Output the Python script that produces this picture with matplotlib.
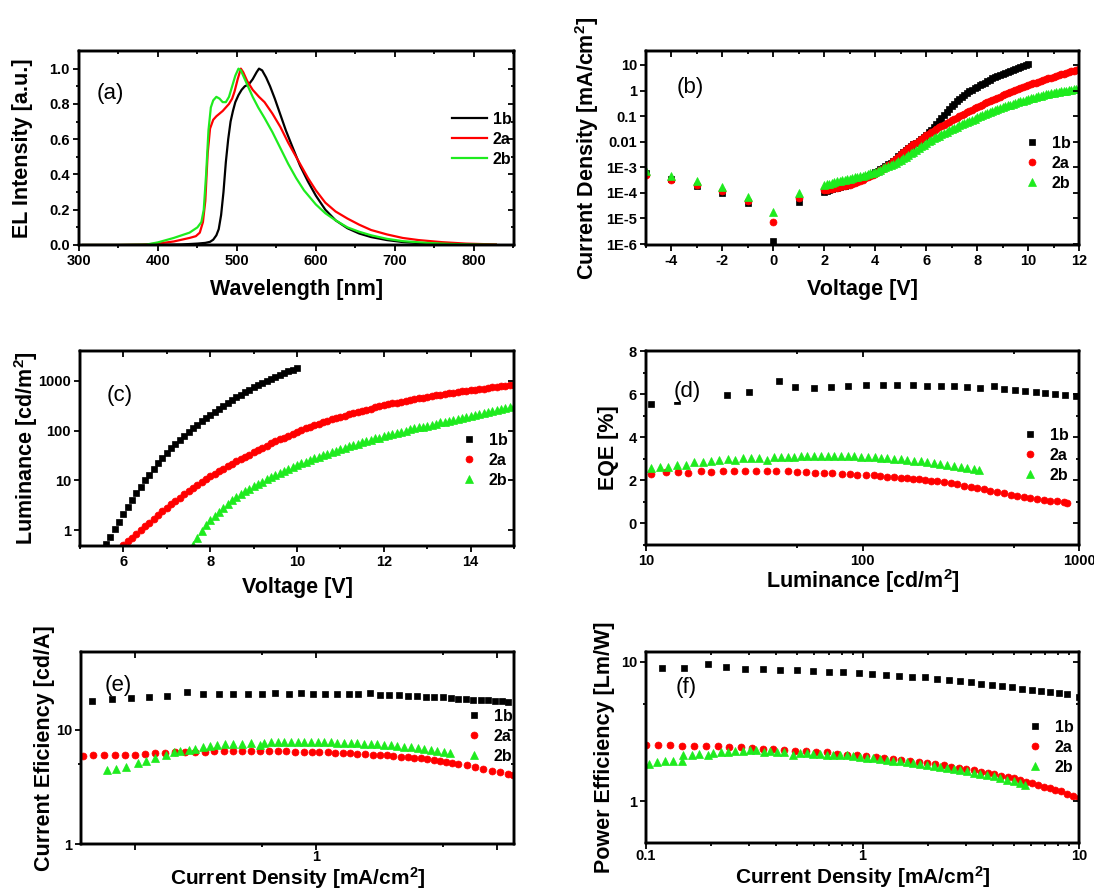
import matplotlib
matplotlib.use("Agg")
import matplotlib.pyplot as plt
from matplotlib.ticker import NullFormatter

plt.rcParams['font.family'] = ['Liberation Sans', 'DejaVu Sans']
plt.rcParams['font.weight'] = 'bold'
plt.rcParams['axes.labelweight'] = 'bold'
plt.rcParams['mathtext.fontset'] = 'custom'
plt.rcParams['mathtext.rm'] = 'Liberation Sans:bold'
plt.rcParams['mathtext.bf'] = 'Liberation Sans:bold'
plt.rcParams['mathtext.default'] = 'bf'

# ---------------- data ----------------
series_names = ['1b', '2a', '2b']
colors = {'1b': '#000000', '2a': '#FF0000', '2b': '#1EEB1E'}

# (a) EL spectra
wl_1b = [305, 350, 400, 430, 450, 460, 466, 470, 474, 477, 480, 483, 486, 489, 492, 495, 498, 502, 506, 510,
         515, 520, 525, 528, 532, 537, 542, 548, 555, 562, 570, 580, 590, 600, 612, 625, 640, 655, 670, 690,
         710, 740, 770, 800, 828]
el_1b = [0, 0, 0.001, 0.003, 0.008, 0.012, 0.018, 0.03, 0.055, 0.09, 0.17, 0.3, 0.47, 0.6, 0.7, 0.76, 0.81, 0.85, 0.88, 0.9,
         0.91, 0.94, 0.98, 1.0, 0.99, 0.95, 0.9, 0.83, 0.74, 0.65, 0.56, 0.45, 0.36, 0.28, 0.2, 0.14, 0.095, 0.065, 0.045, 0.028,
         0.017, 0.008, 0.004, 0.002, 0.0]
wl_2a = [305, 350, 380, 400, 420, 440, 448, 453, 457, 460, 463, 466, 470, 474, 478, 482, 486, 490, 494, 497,
         501, 505, 508, 513, 520, 528, 535, 545, 555, 565, 575, 580, 590, 600, 612, 625, 640, 655, 670, 690,
         710, 730, 760, 790, 828]
el_2a = [0, 0, 0.002, 0.008, 0.02, 0.04, 0.05, 0.07, 0.13, 0.25, 0.52, 0.66, 0.71, 0.73, 0.745, 0.76, 0.78, 0.8, 0.83, 0.87,
         0.94, 1.0, 0.98, 0.93, 0.88, 0.84, 0.81, 0.745, 0.67, 0.58, 0.5, 0.46, 0.38, 0.31, 0.24, 0.19, 0.15, 0.115, 0.085, 0.06,
         0.04, 0.028, 0.016, 0.008, 0.003]
wl_2b = [305, 350, 385, 400, 420, 440, 450, 455, 458, 461, 464, 467, 470, 474, 478, 482, 486, 490, 494, 498,
         502, 505, 509, 514, 520, 527, 535, 545, 555, 565, 575, 585, 600, 612, 625, 640, 655, 670, 690, 710,
         740, 770, 800, 828]
el_2b = [0, 0, 0.002, 0.015, 0.04, 0.07, 0.1, 0.13, 0.2, 0.4, 0.65, 0.78, 0.82, 0.84, 0.83, 0.81, 0.81, 0.84, 0.9, 0.96,
         1.0, 0.99, 0.95, 0.9, 0.84, 0.78, 0.72, 0.64, 0.55, 0.46, 0.38, 0.31, 0.23, 0.18, 0.14, 0.1, 0.075, 0.055, 0.035, 0.022,
         0.012, 0.006, 0.003, 0.001]

# (b) J-V
V_rev = [-5, -4, -3, -2, -1, 0, 1]
J_1b_rev = [6.0e-4, 3.4e-4, 1.9e-4, 1.0e-4, 4.2e-5, 1.3e-6, 4.3e-5]
J_2a_rev = [5.0e-4, 3.2e-4, 2.0e-4, 1.2e-4, 5.0e-5, 7.5e-6, 6.3e-5]
J_2b_rev = [7.0e-4, 4.5e-4, 3.0e-4, 1.7e-4, 7.0e-5, 1.8e-5, 1.0e-4]
V_fwd = [2.0, 2.1, 2.2, 2.3, 2.4, 2.5, 2.6, 2.7, 2.8, 2.9, 3.0, 3.1, 3.2, 3.3, 3.4, 3.5, 3.6, 3.7, 3.8, 3.9,
         4.0, 4.1, 4.2, 4.3, 4.4, 4.5, 4.6, 4.7, 4.8, 4.9, 5.0, 5.1, 5.2, 5.3, 5.4, 5.5, 5.6, 5.7, 5.8, 5.9,
         6.0, 6.1, 6.2, 6.3, 6.4, 6.5, 6.6, 6.7, 6.8, 6.9, 7.0, 7.1, 7.2, 7.3, 7.4, 7.5, 7.6, 7.7, 7.8, 7.9,
         8.0, 8.1, 8.2, 8.3, 8.4, 8.5, 8.6, 8.7, 8.8, 8.9, 9.0, 9.1, 9.2, 9.3, 9.4, 9.5, 9.6, 9.7, 9.8, 9.9,
         10.0, 10.1, 10.2, 10.3, 10.4, 10.5, 10.6, 10.7, 10.8, 10.9, 11.0, 11.1, 11.2, 11.3, 11.4, 11.5, 11.6,
         11.7, 11.8, 11.9, 12.0]
J_1b_fwd = [1.1e-4, 1.2e-4, 1.3e-4, 1.4e-4, 1.5e-4, 1.6e-4, 1.7e-4, 1.8e-4, 1.9e-4, 2.05e-4,
            2.2e-4, 2.5e-4, 2.8e-4, 3.1e-4, 3.4e-4, 3.8e-4, 4.2e-4, 4.6e-4, 5.1e-4, 5.7e-4,
            6.3e-4, 7.2e-4, 8.3e-4, 9.5e-4, 1.1e-3, 1.3e-3, 1.5e-3, 1.8e-3, 2.2e-3, 2.65e-3,
            3.2e-3, 3.8e-3, 4.6e-3, 5.5e-3, 6.6e-3, 7.8e-3, 9.3e-3, 1.1e-2, 1.3e-2, 1.5e-2,
            1.8e-2, 2.3e-2, 2.9e-2, 3.8e-2, 4.9e-2, 6.4e-2, 8.3e-2, 0.108, 0.14, 0.187,
            0.25, 0.31, 0.38, 0.47, 0.58, 0.69, 0.81, 0.93, 1.07, 1.22,
            1.4, 1.6, 1.8, 2.03, 2.3, 2.6, 2.95, 3.3, 3.7, 4.1,
            4.6, 5.0, 5.5, 6.0, 6.6, 7.2, 7.9, 8.6, 9.3, 10.1,
            11.0]
J_2a_fwd = [1.26e-4, 1.33e-4, 1.4e-4, 1.45e-4, 1.5e-4, 1.6e-4, 1.7e-4, 1.8e-4, 1.9e-4, 2.0e-4,
            2.1e-4, 2.3e-4, 2.5e-4, 2.75e-4, 3.0e-4, 3.3e-4, 3.7e-4, 4.1e-4, 4.6e-4, 5.1e-4,
            5.6e-4, 6.5e-4, 7.6e-4, 8.7e-4, 1.0e-3, 1.2e-3, 1.4e-3, 1.7e-3, 2.1e-3, 2.6e-3,
            3.2e-3, 3.8e-3, 4.6e-3, 5.5e-3, 6.6e-3, 7.8e-3, 9.3e-3, 1.1e-2, 1.3e-2, 1.5e-2,
            1.8e-2, 2.0e-2, 2.3e-2, 2.7e-2, 3.1e-2, 3.6e-2, 4.1e-2, 4.7e-2, 5.4e-2, 6.1e-2,
            6.9e-2, 7.8e-2, 8.7e-2, 9.8e-2, 0.11, 0.124, 0.14, 0.159, 0.18, 0.203,
            0.23, 0.254, 0.28, 0.313, 0.35, 0.388, 0.43, 0.473, 0.52, 0.58,
            0.65, 0.71, 0.78, 0.86, 0.95, 1.05, 1.15, 1.25, 1.35, 1.47,
            1.6, 1.75, 1.9, 2.05, 2.2, 2.35, 2.5, 2.72, 2.95, 3.17,
            3.4, 3.64, 3.9, 4.23, 4.6, 4.9, 5.2, 5.6, 6.0, 6.5,
            7.1]
J_2b_fwd = [2.1e-4, 2.2e-4, 2.3e-4, 2.45e-4, 2.6e-4, 2.8e-4, 3.0e-4, 3.1e-4, 3.2e-4, 3.35e-4,
            3.5e-4, 3.75e-4, 4.0e-4, 4.25e-4, 4.5e-4, 4.75e-4, 5.0e-4, 5.4e-4, 5.8e-4, 6.2e-4,
            6.6e-4, 7.3e-4, 8.1e-4, 9.0e-4, 1.0e-3, 1.1e-3, 1.2e-3, 1.35e-3, 1.5e-3, 1.75e-3,
            2.0e-3, 2.3e-3, 2.6e-3, 3.0e-3, 3.5e-3, 4.05e-3, 4.7e-3, 5.5e-3, 6.5e-3, 7.6e-3,
            8.9e-3, 1.03e-2, 1.2e-2, 1.35e-2, 1.5e-2, 1.73e-2, 2.0e-2, 2.25e-2, 2.5e-2, 2.83e-2,
            3.2e-2, 3.5e-2, 3.9e-2, 4.33e-2, 4.8e-2, 5.3e-2, 5.9e-2, 6.5e-2, 7.2e-2, 8.0e-2,
            8.9e-2, 9.9e-2, 0.11, 0.12, 0.13, 0.142, 0.155, 0.172, 0.19, 0.205,
            0.22, 0.24, 0.26, 0.28, 0.30, 0.324, 0.35, 0.375, 0.40, 0.43,
            0.46, 0.49, 0.52, 0.555, 0.59, 0.625, 0.66, 0.7, 0.74, 0.775,
            0.81, 0.85, 0.89, 0.92, 0.95, 1.0, 1.05, 1.08, 1.12, 1.16,
            1.2]

# (c) L-V
V_c = [5.6, 5.7, 5.8, 5.9, 6.0, 6.1, 6.2, 6.3, 6.4, 6.5, 6.6, 6.7, 6.8, 6.9, 7.0, 7.1, 7.2, 7.3, 7.4, 7.5,
       7.6, 7.7, 7.8, 7.9, 8.0, 8.1, 8.2, 8.3, 8.4, 8.5, 8.6, 8.7, 8.8, 8.9, 9.0, 9.1, 9.2, 9.3, 9.4, 9.5,
       9.6, 9.7, 9.8, 9.9, 10.0, 10.1, 10.2, 10.3, 10.4, 10.5, 10.6, 10.7, 10.8, 10.9, 11.0, 11.1, 11.2, 11.3,
       11.4, 11.5, 11.6, 11.7, 11.8, 11.9, 12.0, 12.1, 12.2, 12.3, 12.4, 12.5, 12.6, 12.7, 12.8, 12.9, 13.0,
       13.1, 13.2, 13.3, 13.4, 13.5, 13.6, 13.7, 13.8, 13.9, 14.0, 14.1, 14.2, 14.3, 14.4, 14.5, 14.6, 14.7,
       14.8, 14.9, 15.0]
L_c_1b = [0.52, 0.74, 1.05, 1.48, 2.1, 2.9, 4.0, 5.5, 7.4, 10, 13, 17, 22, 28, 35, 44, 54, 66, 79, 95,
          112, 132, 155, 182, 209, 240, 275, 316, 363, 417, 468, 525, 589, 661, 741, 813, 891, 977, 1070, 1175,
          1290, 1410, 1550, 1660, 1820]
L_c_2a = [0.50, 0.60, 0.71, 0.85, 1.0, 1.2, 1.41, 1.7, 2.0, 2.4,
          2.82, 3.31, 3.89, 4.47, 5.25, 6.03, 6.92, 7.94, 9.12, 10.5,
          12.0, 13.5, 15.1, 17.0, 19.1, 21.4, 24.0, 26.3, 29.5, 32.4,
          36.3, 39.8, 44.7, 49.0, 55.0, 60.3, 66.1, 72.4, 79.4, 87.1,
          95.5, 102, 110, 120, 129, 138, 148, 158, 170, 178,
          191, 200, 214, 224, 240, 251, 263, 275, 295, 309,
          324, 339, 355, 363, 380, 398, 417, 427, 447, 457,
          479, 490, 513, 525, 550, 562, 575, 589, 617, 631,
          646, 661, 676, 692, 724, 741, 759, 776, 794, 813,
          832]
L_c_2b = [0.50, 0.71, 0.95, 1.26,
          1.58, 1.95, 2.34, 2.82, 3.39, 3.98, 4.57, 5.25, 6.03, 6.76,
          7.59, 8.51, 9.33, 10.5, 11.5, 12.6, 13.8, 15.1, 16.6, 18.2,
          20.0, 21.9, 23.4, 25.7, 27.5, 29.5, 31.6, 33.9, 36.3, 38.9,
          41.7, 44.7, 47.9, 51.3, 53.7, 57.5, 61.7, 64.6, 69.2, 72.4,
          77.6, 81.3, 85.1, 91.2, 95.5, 100, 105, 110, 115, 120,
          126, 132, 138, 145, 151, 158, 166, 174, 182, 191,
          200, 209, 219, 229, 240, 251, 263, 275, 288, 302,
          316]

# (d) EQE vs luminance
L_d_1b = [10.5, 13.9, 23.6, 29.9, 41.3, 48.8, 59.4, 71.8, 85.4, 104, 124, 145, 171, 199, 231, 266, 305, 348,
          405, 450, 504, 565, 630, 700, 778, 863, 967]
EQE_d_1b = [5.55, 5.7, 5.98, 6.08, 6.6, 6.33, 6.29, 6.33, 6.37, 6.4, 6.4, 6.4, 6.4, 6.37, 6.37, 6.36, 6.34, 6.29,
            6.38, 6.26, 6.2, 6.16, 6.1, 6.06, 6.01, 5.97, 5.92]
L_d_2a = [10.5, 12.4, 14.0, 15.7, 17.9, 19.9, 22.6, 25.6, 28.7, 32.3, 36.1, 40.0, 45.1, 49.6, 54.8, 60.4, 66.5,
          72.6, 80.0, 87.4, 94.8, 104, 113, 121, 130, 140, 150, 161, 172, 183, 195, 207, 222, 239, 257, 274, 294,
          316, 338, 364, 390, 419, 450, 483, 518, 556, 596, 640, 687, 737, 791, 849, 883]
EQE_d_2a = [2.3, 2.38, 2.38, 2.36, 2.41, 2.39, 2.41, 2.41, 2.41, 2.41, 2.44, 2.41, 2.44, 2.39, 2.38, 2.36, 2.36,
            2.33, 2.31, 2.28, 2.27, 2.25, 2.24, 2.2, 2.17, 2.16, 2.13, 2.11, 2.08, 2.05, 2.02, 1.99, 1.96, 1.91, 1.86,
            1.82, 1.75, 1.71, 1.65, 1.58, 1.52, 1.46, 1.4, 1.34, 1.29, 1.24, 1.2, 1.15, 1.1, 1.06, 1.02, 0.99, 0.96]
L_d_2b = [10.5, 11.6, 12.7, 13.9, 15.3, 16.7, 18.3, 20.0, 21.8, 23.8, 25.7, 28.2, 30.7, 33.4, 36.2, 39.1, 42.0,
          45.1, 48.3, 51.9, 55.7, 59.8, 64.3, 69.0, 74.0, 79.5, 85.4, 91.7, 98.4, 106, 114, 122, 130, 140, 150,
          161, 173, 186, 199, 214, 229, 246, 264, 284, 305, 327, 345]
EQE_d_2b = [2.56, 2.61, 2.61, 2.69, 2.72, 2.83, 2.87, 2.9, 2.95, 2.98, 2.95, 3.03, 3.03, 3.03, 2.95, 3.07, 3.07,
            3.07, 3.07, 3.14, 3.11, 3.11, 3.11, 3.14, 3.11, 3.11, 3.11, 3.11, 3.07, 3.07, 3.06, 3.04, 3.03, 3.01,
            2.98, 2.95, 2.92, 2.89, 2.86, 2.81, 2.76, 2.72, 2.67, 2.62, 2.58, 2.53, 2.48]

# (e) current efficiency vs current density
J_e_1b = [0.0577, 0.0743, 0.0947, 0.119, 0.150, 0.193, 0.237, 0.288, 0.347, 0.42, 0.501, 0.593, 0.703, 0.823,
          0.959, 1.12, 1.30, 1.51, 1.71, 1.97, 2.24, 2.54, 2.85, 3.2, 3.6, 4.04, 4.49, 5.01, 5.55, 6.11, 6.74,
          7.4, 8.13, 8.95, 9.75, 10.6, 11.5]
CE_e_1b = [17.8, 18.5, 18.8, 19.2, 19.6, 21.4, 20.4, 20.4, 20.5, 20.6, 20.6, 20.8, 20.6, 20.8, 20.6, 20.6, 20.6,
           20.6, 20.6, 20.8, 20.3, 20.1, 20.0, 19.7, 19.6, 19.5, 19.4, 19.2, 19.1, 18.7, 18.5, 18.4, 18.1, 18.1,
           17.8, 17.7, 17.5]
J_e_2a = [0.0514, 0.0583, 0.0668, 0.0766, 0.0873, 0.1, 0.1135, 0.129, 0.1466, 0.166, 0.189, 0.214, 0.244,
          0.273, 0.308, 0.347, 0.389, 0.436, 0.491, 0.55, 0.611, 0.682, 0.766, 0.851, 0.947, 1.04, 1.156, 1.27,
          1.40, 1.54, 1.69, 1.87, 2.05, 2.24, 2.46, 2.67, 2.94, 3.2, 3.48, 3.79, 4.09, 4.45, 4.84, 5.23, 5.64,
          6.11, 6.8, 7.55, 8.4, 9.35, 10.4, 11.5, 12.3]
CE_e_2a = [5.88, 5.96, 5.96, 6.0, 6.03, 6.07, 6.15, 6.24, 6.28, 6.37, 6.45, 6.45, 6.45, 6.5, 6.5, 6.5, 6.5, 6.5,
           6.53, 6.53, 6.5, 6.5, 6.45, 6.45, 6.41, 6.37, 6.37, 6.31, 6.28, 6.24, 6.19, 6.12, 6.07, 6.03, 5.96,
           5.91, 5.83, 5.76, 5.69, 5.61, 5.53, 5.43, 5.35, 5.25, 5.14, 5.01, 4.87, 4.72, 4.56, 4.38, 4.27, 4.13, 4.0]
J_e_2b = [0.0692, 0.0785, 0.0891, 0.103, 0.115, 0.129, 0.147, 0.163, 0.177, 0.197, 0.214, 0.237, 0.26, 0.283,
          0.314, 0.347, 0.389, 0.436, 0.491, 0.516, 0.562, 0.611, 0.665, 0.724, 0.789, 0.859, 0.935, 1.02, 1.11,
          1.21, 1.31, 1.43, 1.56, 1.69, 1.84, 2.0, 2.18, 2.38, 2.59, 2.81, 3.06, 3.33, 3.63, 3.95, 4.3, 4.68,
          5.1, 5.5]
CE_e_2b = [4.47, 4.5, 4.72, 5.14, 5.38, 5.69, 5.96, 6.37, 6.57, 6.71, 6.8, 7.13, 7.26, 7.36, 7.47, 7.52, 7.56,
           7.62, 7.36, 7.67, 7.78, 7.78, 7.82, 7.82, 7.82, 7.82, 7.78, 7.78, 7.78, 7.78, 7.71, 7.71, 7.67, 7.62,
           7.56, 7.52, 7.47, 7.36, 7.31, 7.22, 7.13, 7.04, 6.94, 6.8, 6.67, 6.53, 6.41, 6.24]

# (f) power efficiency vs current density
J_f_1b = [0.119, 0.150, 0.193, 0.234, 0.287, 0.347, 0.417, 0.498, 0.59, 0.702, 0.817, 0.959, 1.11, 1.29, 1.47,
          1.69, 1.95, 2.21, 2.5, 2.83, 3.17, 3.54, 3.97, 4.41, 4.91, 5.46, 6.07, 6.68, 7.38, 8.06, 8.81, 10.0]
PE_f_1b = [8.98, 8.98, 9.58, 9.12, 8.87, 8.83, 8.73, 8.69, 8.59, 8.45, 8.36, 8.27, 8.14, 8.01, 7.88, 7.75, 7.75,
           7.54, 7.38, 7.22, 7.1, 6.95, 6.8, 6.65, 6.54, 6.4, 6.22, 6.12, 6.0, 5.9, 5.85, 5.55]
J_f_2a = [0.1, 0.114, 0.129, 0.146, 0.167, 0.189, 0.214, 0.243, 0.274, 0.308, 0.347, 0.388, 0.435, 0.489, 0.55,
          0.611, 0.685, 0.762, 0.848, 0.942, 1.04, 1.15, 1.26, 1.38, 1.51, 1.66, 1.82, 1.99, 2.17, 2.37, 2.56,
          2.78, 3.01, 3.26, 3.52, 3.78, 4.06, 4.36, 4.68, 4.99, 5.32, 5.69, 6.07, 6.44, 6.87, 7.33, 7.78, 8.27,
          8.81, 9.4, 10.0]
PE_f_2a = [2.52, 2.52, 2.54, 2.49, 2.49, 2.49, 2.47, 2.43, 2.43, 2.39, 2.36, 2.36, 2.33, 2.3, 2.28, 2.24, 2.23,
           2.19, 2.15, 2.12, 2.1, 2.07, 2.03, 2.0, 1.97, 1.94, 1.9, 1.86, 1.83, 1.8, 1.76, 1.73, 1.7, 1.66, 1.62,
           1.59, 1.55, 1.52, 1.49, 1.46, 1.42, 1.37, 1.34, 1.3, 1.26, 1.23, 1.2, 1.17, 1.13, 1.09, 1.05]
J_f_2b = [0.103, 0.113, 0.122, 0.133, 0.146, 0.149, 0.163, 0.176, 0.194, 0.205, 0.221, 0.24, 0.258, 0.28, 0.303,
          0.323, 0.349, 0.374, 0.402, 0.435, 0.48, 0.515, 0.553, 0.593, 0.637, 0.684, 0.734, 0.789, 0.847, 0.908,
          0.975, 1.05, 1.12, 1.21, 1.30, 1.39, 1.49, 1.60, 1.72, 1.85, 1.99, 2.13, 2.29, 2.45, 2.64, 2.83, 3.04,
          3.26, 3.50, 3.76, 4.03, 4.33, 4.65, 4.99, 5.36, 5.65]
PE_f_2b = [1.83, 1.90, 1.93, 1.95, 1.95, 2.12, 2.15, 2.18, 2.12, 2.2, 2.23, 2.26, 2.29, 2.3, 2.31, 2.33, 2.24,
           2.28, 2.26, 2.24, 2.15, 2.21, 2.2, 2.19, 2.17, 2.15, 2.14, 2.13, 2.12, 2.1, 2.07, 2.05, 2.03, 2.01,
           1.98, 1.95, 1.93, 1.9, 1.87, 1.84, 1.81, 1.78, 1.75, 1.73, 1.7, 1.66, 1.63, 1.6, 1.56, 1.53, 1.5, 1.46,
           1.42, 1.39, 1.35, 1.3]

# ---------------- figure ----------------
W, H = 1094, 892
fig = plt.figure(figsize=(W / 100, H / 100), dpi=100)

MARK = {'1b': dict(marker='s', ms=4.4), '2a': dict(marker='o', ms=5.0), '2b': dict(marker='^', ms=5.6)}
TICK_FS = 10.5
LAB_FS = 15.5


def add_ax(l, t, r, b):
    return fig.add_axes([l / W, 1 - b / H, (r - l) / W, (b - t) / H])


def setup(ax, xscale, xlim, xmaj, xlabels, xmin, yscale, ylim, ymaj, ylabels, ymin,
          xlabel, ylabel, xlab_y, ylab_x, xpad=2.5, xlab_fs=LAB_FS):
    ax.set_xscale(xscale)
    ax.set_yscale(yscale)
    ax.set_xlim(xlim)
    ax.set_ylim(ylim)
    ax.set_xticks(xmaj, xlabels)
    ax.set_xticks(xmin, minor=True)
    ax.set_yticks(ymaj, ylabels)
    ax.set_yticks(ymin, minor=True)
    ax.xaxis.set_minor_formatter(NullFormatter())
    ax.yaxis.set_minor_formatter(NullFormatter())
    ax.tick_params(which='both', direction='out', width=1.3, labelsize=TICK_FS, pad=2.5)
    ax.tick_params(axis='x', which='both', pad=xpad)
    ax.tick_params(which='major', length=4)
    ax.tick_params(which='minor', length=2.5)
    for s in ax.spines.values():
        s.set_linewidth(1.7)
    ax.set_xlabel(xlabel, fontsize=xlab_fs, va='top')
    ax.set_ylabel(ylabel, fontsize=LAB_FS)
    ax.xaxis.set_label_coords(0.5, xlab_y)
    ax.yaxis.set_label_coords(ylab_x, 0.5)
    # mirrored ticks pointing inward on top / right
    tx = ax.twiny()
    tx.set_xscale(xscale)
    tx.set_xlim(xlim)
    tx.set_xticks(xmaj)
    tx.set_xticks(xmin, minor=True)
    tx.xaxis.set_major_formatter(NullFormatter())
    tx.xaxis.set_minor_formatter(NullFormatter())
    tx.tick_params(axis='x', which='both', direction='in', width=1.3)
    tx.tick_params(axis='x', which='major', length=4)
    tx.tick_params(axis='x', which='minor', length=2.5)
    ty = ax.twinx()
    ty.set_yscale(yscale)
    ty.set_ylim(ylim)
    ty.set_yticks(ymaj)
    ty.set_yticks(ymin, minor=True)
    ty.yaxis.set_major_formatter(NullFormatter())
    ty.yaxis.set_minor_formatter(NullFormatter())
    ty.tick_params(axis='y', which='both', direction='in', width=1.3)
    ty.tick_params(axis='y', which='major', length=4)
    ty.tick_params(axis='y', which='minor', length=2.5)
    for t in (tx, ty):
        for s in t.spines.values():
            s.set_linewidth(1.7)


def legend(ax, handles, x, y, line=False):
    kw = dict(handlelength=2.2, handletextpad=0.35) if line else dict(handlelength=1.0, handletextpad=0.75)
    ax.legend(handles, series_names, loc='upper left', bbox_to_anchor=(x / W, 1 - y / H),
              bbox_transform=fig.transFigure, frameon=False, borderpad=0, borderaxespad=0,
              labelspacing=0.3, numpoints=1, prop={'size': 11.5, 'weight': 'bold'}, **kw)


def panel_label(x, y, s, box=False):
    kw = dict(bbox=dict(facecolor='white', edgecolor='none', pad=0.3)) if box else {}
    fig.text(x / W, 1 - y / H, s, fontsize=16, fontweight='normal', ha='center', va='center', **kw)


def scatter(ax, x, y, name):
    return ax.plot(x, y, linestyle='none', color=colors[name], mec=colors[name], mew=0.5, **MARK[name])[0]


sq = 'Current Density [mA/cm$^{2}$]'

# ---- (a)
ax = add_ax(79, 51, 514, 245)
h = [ax.plot(wl_1b, el_1b, color=colors['1b'], lw=1.6)[0],
     ax.plot(wl_2a, el_2a, color=colors['2a'], lw=1.6)[0],
     ax.plot(wl_2b, el_2b, color=colors['2b'], lw=1.6)[0]]
setup(ax, 'linear', (300, 851), [300, 400, 500, 600, 700, 800], ['300', '400', '500', '600', '700', '800'],
      [350, 450, 550, 650, 750, 850],
      'linear', (0, 1.1), [0, 0.2, 0.4, 0.6, 0.8, 1.0], ['0.0', '0.2', '0.4', '0.6', '0.8', '1.0'],
      [0.1, 0.3, 0.5, 0.7, 0.9],
      'Wavelength [nm]', 'EL Intensity [a.u.]', -0.175, -0.105)
legend(ax, h, 452, 112, line=True)
panel_label(110, 93, '(a)')

# ---- (b)
ax = add_ax(646, 51, 1079, 245)
h = [scatter(ax, V_rev + V_fwd[:81], J_1b_rev + J_1b_fwd, '1b'),
     scatter(ax, V_rev + V_fwd, J_2a_rev + J_2a_fwd, '2a'),
     scatter(ax, V_rev + V_fwd, J_2b_rev + J_2b_fwd, '2b')]
setup(ax, 'linear', (-5, 12), [-4, -2, 0, 2, 4, 6, 8, 10, 12], ['-4', '-2', '0', '2', '4', '6', '8', '10', '12'],
      [-5, -3, -1, 1, 3, 5, 7, 9, 11],
      'log', (0.92e-6, 35), [1e-6, 1e-5, 1e-4, 1e-3, 1e-2, 1e-1, 1, 10],
      ['1E-6', '1E-5', '1E-4', '1E-3', '0.01', '0.1', '1', '10'], [],
      'Voltage [V]', sq, -0.175, -0.105)
legend(ax, h, 1024, 136)
panel_label(690, 88, '(b)')

# ---- (c)
ax = add_ax(80, 351, 514, 546)
h = [scatter(ax, V_c[:45], L_c_1b, '1b'),
     scatter(ax, V_c[4:], L_c_2a, '2a'),
     scatter(ax, V_c[20:], L_c_2b, '2b')]
setup(ax, 'linear', (5, 15), [6, 8, 10, 12, 14], ['6', '8', '10', '12', '14'], [5, 7, 9, 11, 13, 15],
      'log', (0.48, 3950), [1, 10, 100, 1000], ['1', '10', '100', '1000'], [],
      'Voltage [V]', 'Luminance [cd/m$^{2}$]', -0.16, -0.092)
legend(ax, h, 461, 433)
panel_label(120, 395, '(c)')

# ---- (d)
ax = add_ax(646, 351, 1079, 545)
h = [scatter(ax, L_d_1b, EQE_d_1b, '1b'),
     scatter(ax, L_d_2a, EQE_d_2a, '2a'),
     scatter(ax, L_d_2b, EQE_d_2b, '2b')]
setup(ax, 'log', (10, 1000), [10, 100, 1000], ['10', '100', '1000'], [50, 500],
      'linear', (-1, 8), [0, 2, 4, 6, 8], ['0', '2', '4', '6', '8'], [-1, 1, 3, 5, 7],
      'Luminance [cd/m$^{2}$]', 'EQE [%]', -0.115, -0.062)
legend(ax, h, 1022, 428)
panel_label(687, 391, '(d)', box=True)

# ---- (e)
ax = add_ax(81, 652, 514, 844)
h = [scatter(ax, J_e_1b, CE_e_1b, '1b'),
     scatter(ax, J_e_2a, CE_e_2a, '2a'),
     scatter(ax, J_e_2b, CE_e_2b, '2b')]
setup(ax, 'log', (0.05, 12.4), [0.1, 1, 10], ['', '1', ''], [0.5, 5],
      'log', (1, 48), [1, 10], ['1', '10'], [5],
      sq, 'Current Eficiency [cd/A]', -0.112, -0.06, xpad=0.5, xlab_fs=15)
legend(ax, h, 466, 709)
panel_label(118, 685, '(e)')

# ---- (f)
ax = add_ax(646, 652, 1079, 843)
h = [scatter(ax, J_f_1b, PE_f_1b, '1b'),
     scatter(ax, J_f_2a, PE_f_2a, '2a'),
     scatter(ax, J_f_2b, PE_f_2b, '2b')]
setup(ax, 'log', (0.1, 10), [0.1, 1, 10], ['0.1', '1', '10'],
      [0.2, 0.3, 0.4, 0.5, 0.6, 0.7, 0.8, 0.9, 2, 3, 4, 5, 6, 7, 8, 9],
      'log', (0.5, 11.7), [1, 10], ['1', '10'], [5],
      sq, 'Power Efficiency [Lm/W]', -0.112, -0.072, xpad=0.5, xlab_fs=15)
legend(ax, h, 1027, 720)
panel_label(686, 688, '(f)')

fig.savefig('out.png', dpi=100)
